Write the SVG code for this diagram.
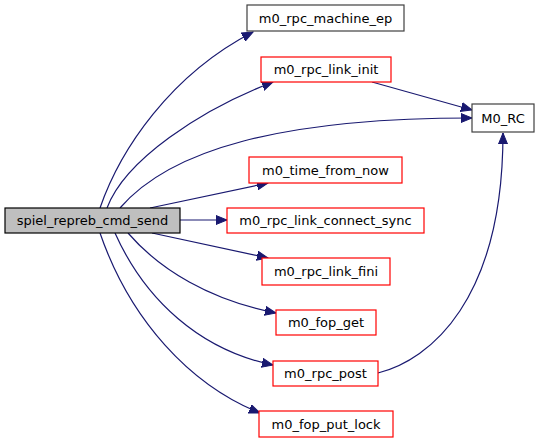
<svg xmlns="http://www.w3.org/2000/svg" width="543" height="443" viewBox="0 0 543 443">
<style>
text{font-family:"DejaVu Sans",sans-serif;font-size:13px;fill:#000;text-anchor:middle}
.n rect{fill:#fff;stroke:#ff0000;stroke-width:1.2}
.k rect{fill:#fff;stroke:#404040;stroke-width:1.2}
.e path{fill:none;stroke:#191970;stroke-width:1.2}
</style>
<defs>
<marker id="a" markerUnits="userSpaceOnUse" markerWidth="12" markerHeight="10" refX="11" refY="5" orient="auto">
<path d="M0,0.5 L11,5 L0,9.5 Z" fill="#191970" stroke="#191970"/>
</marker>
</defs>
<g class="e" id="edges">
<path d="M100,208 C120,150 170,75 253,32" marker-end="url(#a)"/>
<path d="M107,208 C125,160 200,110 273,82" marker-end="url(#a)"/>
<path d="M120,208 C170,150 280,118 472,118" marker-end="url(#a)"/>
<path d="M150,208 L268,183" marker-end="url(#a)"/>
<path d="M180,220 L227,220" marker-end="url(#a)"/>
<path d="M152,233 L268,258" marker-end="url(#a)"/>
<path d="M128,233 C160,270 210,300 276,313" marker-end="url(#a)"/>
<path d="M115,233 C145,300 200,350 273,365" marker-end="url(#a)"/>
<path d="M100,233 C130,320 190,385 260,413" marker-end="url(#a)"/>
<path d="M372,82 L472,110" marker-end="url(#a)"/>
<path d="M378,373 C430,360 503,300 503,133" marker-end="url(#a)"/>
</g>
<g id="main" class="k"><rect x="5" y="208" width="175" height="25" style="fill:#bfbfbf;stroke:#000"/><text x="92.5" y="225">spiel_repreb_cmd_send</text></g>
<g id="machine_ep" class="k"><rect x="247" y="5" width="157" height="26"/><text x="325.5" y="23">m0_rpc_machine_ep</text></g>
<g id="link_init" class="n"><rect x="261" y="57" width="130" height="25"/><text x="326" y="74">m0_rpc_link_init</text></g>
<g id="m0_rc" class="k"><rect x="472" y="104" width="62" height="28"/><text x="503" y="123">M0_RC</text></g>
<g id="time_from_now" class="n"><rect x="249" y="157" width="153" height="26"/><text x="325.5" y="175">m0_time_from_now</text></g>
<g id="connect_sync" class="n"><rect x="227" y="208" width="197" height="25"/><text x="325.5" y="225">m0_rpc_link_connect_sync</text></g>
<g id="link_fini" class="n"><rect x="262" y="258" width="128" height="27"/><text x="326" y="276">m0_rpc_link_fini</text></g>
<g id="fop_get" class="n"><rect x="276" y="310" width="100" height="25"/><text x="326" y="327">m0_fop_get</text></g>
<g id="rpc_post" class="n"><rect x="273" y="361" width="105" height="25"/><text x="325.5" y="378">m0_rpc_post</text></g>
<g id="fop_put_lock" class="n"><rect x="259" y="411" width="134" height="26"/><text x="326" y="429">m0_fop_put_lock</text></g>
</svg>
